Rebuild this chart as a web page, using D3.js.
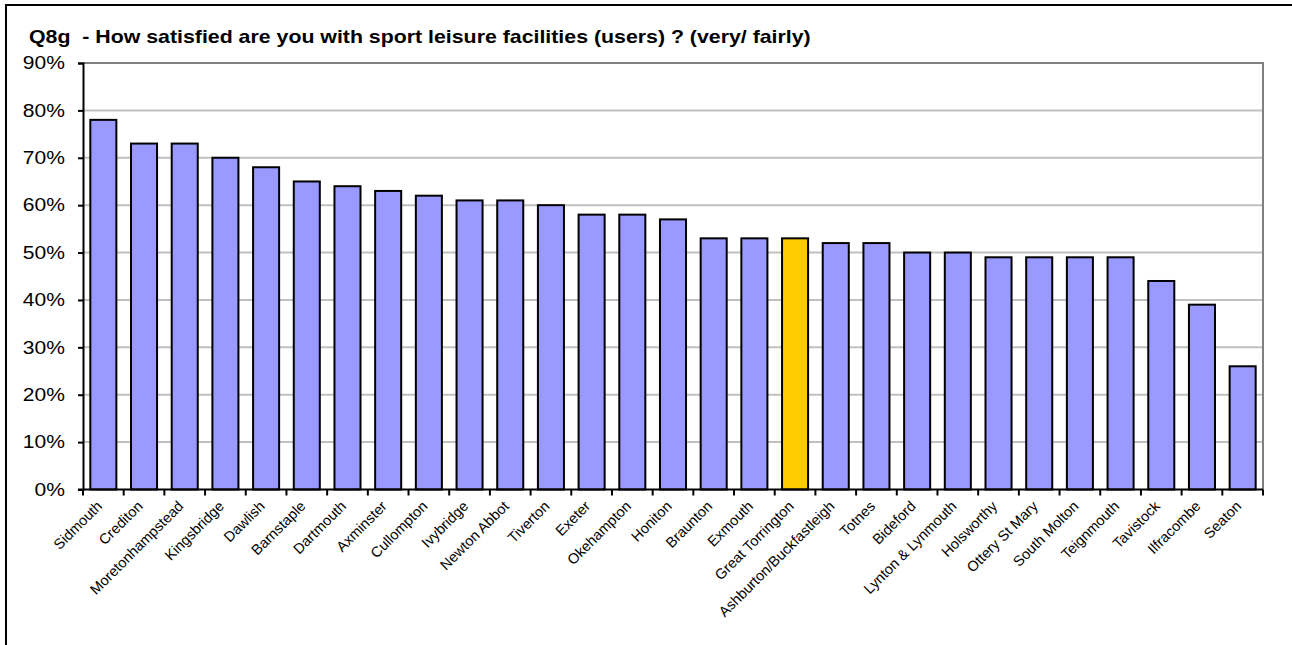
<!DOCTYPE html>
<html>
<head>
<meta charset="utf-8">
<script src="https://cdn.jsdelivr.net/npm/d3@7"></script>
<style>
  html, body { margin: 0; padding: 0; background: #fff; }
  svg { display: block; }
  text { font-family: Arial, "Liberation Sans", sans-serif; fill: #000; }
</style>
</head>
<body>
<svg id="chart" width="1292" height="645"></svg>
<script>
const title = "Q8g  - How satisfied are you with sport leisure facilities (users) ? (very/ fairly)";
const categories = ["Sidmouth", "Crediton", "Moretonhampstead", "Kingsbridge", "Dawlish", "Barnstaple",
  "Dartmouth", "Axminster", "Cullompton", "Ivybridge", "Newton Abbot", "Tiverton", "Exeter",
  "Okehampton", "Honiton", "Braunton", "Exmouth", "Great Torrington", "Ashburton/Buckfastleigh",
  "Totnes", "Bideford", "Lynton & Lynmouth", "Holsworthy", "Ottery St Mary", "South Molton",
  "Teignmouth", "Tavistock", "Ilfracombe", "Seaton"];
const values = [0.78, 0.73, 0.73, 0.70, 0.68, 0.65, 0.64, 0.63, 0.62, 0.61, 0.61, 0.60, 0.58,
  0.58, 0.57, 0.53, 0.53, 0.53, 0.52, 0.52, 0.50, 0.50, 0.49, 0.49, 0.49, 0.49, 0.44, 0.39, 0.26];
const highlighted = ["Great Torrington"];
const yTicks = [0, 0.1, 0.2, 0.3, 0.4, 0.5, 0.6, 0.7, 0.8, 0.9];

const svg = d3.select("#chart");
const pL = 83, pR = 1263, pT = 63, pB = 489.5;
const stretch = 1.17; // text in the reference is drawn slightly wide

// outer frame
svg.append("rect").attr("x", 6).attr("y", 5).attr("width", 1300).attr("height", 700)
  .attr("fill", "none").attr("stroke", "#000").attr("stroke-width", 2);

svg.append("text")
  .attr("transform", `translate(29,43) scale(1.185,1)`)
  .attr("xml:space", "preserve").style("white-space", "pre")
  .attr("font-size", 18).attr("font-weight", "bold").text(title);

const x = d3.scaleBand().domain(categories).range([pL, pR]).paddingInner(0.36).paddingOuter(0.18);
const y = d3.scaleLinear().domain([0, 0.9]).range([pB, pT]);

// gridlines
svg.append("g").selectAll("line").data(yTicks.filter(d => d > 0 && d < 0.9)).join("line")
  .attr("x1", pL).attr("x2", pR).attr("y1", d => y(d)).attr("y2", d => y(d))
  .attr("stroke", "#c0c0c0").attr("stroke-width", 2);

// plot border (top/right grey)
svg.append("path")
  .attr("d", `M${pL},${y(0.9)}H${pR}V${pB}`)
  .attr("fill", "none").attr("stroke", "#808080").attr("stroke-width", 2);

// bars
svg.append("g").selectAll("rect").data(categories).join("rect")
  .attr("x", d => x(d)).attr("width", x.bandwidth())
  .attr("y", (d, i) => y(values[i])).attr("height", (d, i) => y(0) - y(values[i]))
  .attr("fill", d => highlighted.includes(d) ? "#FFCC00" : "#9999FF")
  .attr("stroke", "#000").attr("stroke-width", 2);

// y axis
const yAxis = d3.axisLeft(y).tickValues(yTicks).tickFormat(d3.format(".0%")).tickSize(5).tickPadding(0);
const gy = svg.append("g").attr("transform", `translate(${pL},0)`).call(yAxis);
gy.select(".domain").attr("stroke", "#000").attr("stroke-width", 2);
gy.selectAll(".tick line").attr("stroke", "#000").attr("stroke-width", 2);
gy.selectAll(".tick text")
  .attr("x", 0)
  .attr("transform", `translate(-18,0) scale(${stretch},1)`)
  .attr("font-size", 18).attr("font-family", "Arial, 'Liberation Sans', sans-serif");

// x axis line with ticks at category boundaries
const boundaries = d3.range(categories.length + 1).map(i => pL + i * (pR - pL) / categories.length);
svg.append("line").attr("x1", pL - 5).attr("x2", pR).attr("y1", pB).attr("y2", pB)
  .attr("stroke", "#000").attr("stroke-width", 2);
svg.append("g").selectAll("line").data(boundaries).join("line")
  .attr("x1", d => d).attr("x2", d => d).attr("y1", pB).attr("y2", pB + 6)
  .attr("stroke", "#000").attr("stroke-width", 2);

// x labels
svg.append("g").selectAll("text").data(categories).join("text")
  .attr("font-size", 14.5)
  .attr("text-anchor", "end")
  .attr("transform", d => `translate(${x(d) + x.bandwidth() / 2 - 4},${pB + 14}) rotate(-45)`)
  .attr("dy", "0.35em")
  .text(d => d);
</script>
</body>
</html>
